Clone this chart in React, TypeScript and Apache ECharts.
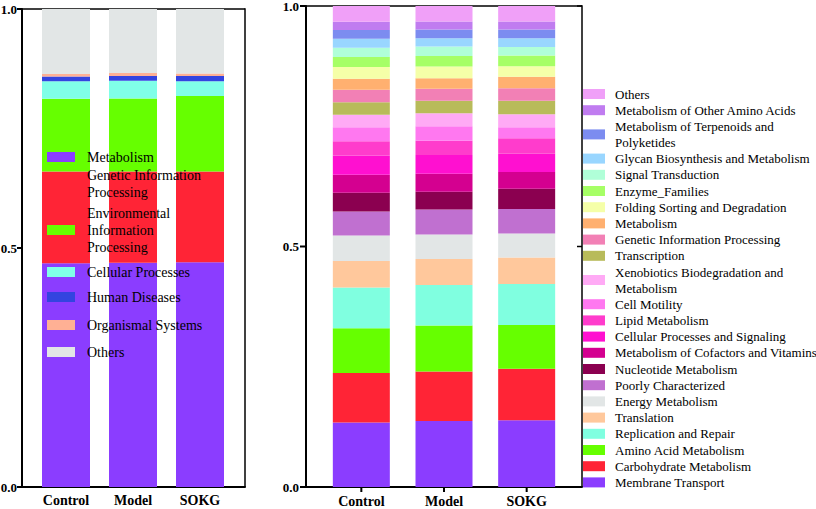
import React, { useEffect, useRef } from "react";
import * as echarts from "echarts";

const groups = ["Control", "Model", "SOKG"];

// Left chart (level 1 categories, bottom to top)
const leftCategories = [
  "Metabolism",
  "Genetic Information Processing",
  "Environmental Information Processing",
  "Cellular Processes",
  "Human Diseases",
  "Organismal Systems",
  "Others",
];
const leftLabels = [
  "Metabolism",
  "Genetic Information\nProcessing",
  "Environmental\nInformation\nProcessing",
  "Cellular Processes",
  "Human Diseases",
  "Organismal Systems",
  "Others",
];
const leftColors = ["#8B3DFF", "#FF2436", "#66FF00", "#80FFE8", "#3344E0", "#FFB094", "#E2E6E6"];
const leftControl = [0.468, 0.192, 0.152, 0.037, 0.01, 0.005, 0.136];
const leftModel = [0.469, 0.191, 0.153, 0.037, 0.01, 0.006, 0.134];
const leftSOKG = [0.47, 0.19, 0.158, 0.031, 0.011, 0.005, 0.135];

// Right chart (level 2 categories, bottom to top)
const rightCategories = [
  "Membrane Transport",
  "Carbohydrate Metabolism",
  "Amino Acid Metabolism",
  "Replication and Repair",
  "Translation",
  "Energy Metabolism",
  "Poorly Characterized",
  "Nucleotide Metabolism",
  "Metabolism of Cofactors and Vitamins",
  "Cellular Processes and Signaling",
  "Lipid Metabolism",
  "Cell Motility",
  "Xenobiotics Biodegradation and Metabolism",
  "Transcription",
  "Genetic Information Processing",
  "Metabolism",
  "Folding Sorting and Degradation",
  "Enzyme_Families",
  "Signal Transduction",
  "Glycan Biosynthesis and Metabolism",
  "Metabolism of Terpenoids and Polyketides",
  "Metabolism of Other Amino Acids",
  "Others",
];
const rightLabels = [
  "Membrane Transport",
  "Carbohydrate Metabolism",
  "Amino Acid Metabolism",
  "Replication and Repair",
  "Translation",
  "Energy Metabolism",
  "Poorly Characterized",
  "Nucleotide Metabolism",
  "Metabolism of Cofactors and Vitamins",
  "Cellular Processes and Signaling",
  "Lipid Metabolism",
  "Cell Motility",
  "Xenobiotics Biodegradation and\nMetabolism",
  "Transcription",
  "Genetic Information Processing",
  "Metabolism",
  "Folding Sorting and Degradation",
  "Enzyme_Families",
  "Signal Transduction",
  "Glycan Biosynthesis and Metabolism",
  "Metabolism of Terpenoids and\nPolyketides",
  "Metabolism of Other Amino Acids",
  "Others",
];
const rightColors = [
  "#8B3DFF", "#FF2436", "#66FF00", "#80FFE0", "#FFC89C", "#E2E6E6",
  "#C070D0", "#8B0050", "#D40090", "#FF10D0", "#FF3CCC", "#FF78F0",
  "#FFAAF5", "#B8BB5A", "#F280B5", "#FFB070", "#F5FFA8", "#A6FF66",
  "#B0FFD8", "#99D6FF", "#7C8CF0", "#C07CF0", "#F0A0F8",
];
const rightControl = [
  0.134, 0.103, 0.093, 0.085, 0.055, 0.053, 0.05, 0.039, 0.037, 0.04, 0.03, 0.029,
  0.026, 0.026, 0.026, 0.023, 0.024, 0.021, 0.019, 0.019, 0.018, 0.017, 0.033,
];
const rightModel = [
  0.137, 0.103, 0.096, 0.084, 0.054, 0.051, 0.052, 0.037, 0.037, 0.039, 0.03, 0.03,
  0.027, 0.026, 0.025, 0.022, 0.024, 0.022, 0.02, 0.017, 0.018, 0.017, 0.032,
];
const rightSOKG = [
  0.139, 0.107, 0.091, 0.085, 0.055, 0.05, 0.051, 0.042, 0.035, 0.038, 0.032, 0.023,
  0.027, 0.028, 0.026, 0.024, 0.022, 0.022, 0.018, 0.018, 0.018, 0.017, 0.032,
];

const yTickValues = [0, 0.5, 1.0];

// Left legend vertical positions (top of each item block)
const leftLegendTops = [148.5, 166.5, 204.5, 263.5, 288.5, 316.5, 343.5];

const FONT = "'Liberation Serif', 'Times New Roman', serif";

// layout: outer frames and inner grids
const frameL = { x0: 22, y0: 9, x1: 245, y1: 487 };
const frameR = { x0: 306, y0: 6, x1: 582, y1: 487 };
const gridL = { left: 32.5, width: 201 };
const gridR = { left: 320, width: 248 };

export default function App() {
  const ref = useRef<HTMLDivElement>(null);
  useEffect(() => {
    document.body.style.margin = "0";
    if (!ref.current) return;
    const chart = echarts.init(ref.current, undefined, { renderer: "svg" });

    const leftSeries = leftCategories.map((name, i) => ({
      name: "L_" + name,
      type: "bar",
      stack: "left",
      xAxisIndex: 0,
      yAxisIndex: 0,
      barWidth: 48,
      itemStyle: { color: leftColors[i] },
      data: [leftControl[i], leftModel[i], leftSOKG[i]],
    }));
    const rightSeries = rightCategories.map((name, i) => ({
      name: "R_" + name,
      type: "bar",
      stack: "right",
      xAxisIndex: 1,
      yAxisIndex: 1,
      barWidth: 57,
      itemStyle: { color: rightColors[i] },
      data: [rightControl[i], rightModel[i], rightSOKG[i]],
    }));

    const leftLegends = leftCategories.map((name, i) => ({
      left: 47,
      top: leftLegendTops[i],
      padding: 0,
      orient: "vertical",
      itemWidth: 28,
      itemHeight: 10,
      selectedMode: false,
      icon: "rect",
      data: ["L_" + name],
      formatter: () => leftLabels[i],
      textStyle: {
        fontFamily: FONT,
        fontSize: 14,
        lineHeight: 17,
        color: "#000",
        padding: [0, 0, 0, 7],
      },
    }));

    const rightLegend = {
      left: 583,
      top: 86,
      padding: 0,
      orient: "vertical",
      itemWidth: 22,
      itemHeight: 10,
      itemGap: 0.2,
      selectedMode: false,
      icon: "rect",
      data: rightCategories.map((n) => "R_" + n).reverse(),
      formatter: (n: string) => rightLabels[rightCategories.indexOf(n.slice(2))],
      textStyle: {
        fontFamily: FONT,
        fontSize: 13,
        lineHeight: 16,
        color: "#000",
        padding: [0, 0, 0, 5],
      },
    };

    const yLabel = {
      fontFamily: FONT,
      fontSize: 13,
      fontWeight: "bold",
      color: "#000",
      formatter: (v: number) => v.toFixed(1),
    };
    const xLabel = {
      fontFamily: FONT,
      fontSize: 14,
      fontWeight: "bold",
      color: "#000",
    };

    // Frame lines and ticks as graphic rects
    const r = (x: number, y: number, w: number, h: number) => ({
      type: "rect",
      shape: { x, y, width: w, height: h },
      style: { fill: "#000" },
    });
    const frameRects = (f: { x0: number; y0: number; x1: number; y1: number }) => [
      r(f.x0 - 1, f.y0 - 0.75, 2, f.y1 - f.y0 + 1.75),
      r(f.x0 - 1, f.y1 - 1, f.x1 - f.x0 + 1.75, 2),
      r(f.x0, f.y0 - 0.75, f.x1 - f.x0, 1.5),
      r(f.x1 - 0.75, f.y0 - 0.75, 1.5, f.y1 - f.y0 + 0.75),
    ];

    chart.setOption({
      animation: false,
      grid: [
        { left: gridL.left, top: frameL.y0, width: gridL.width, height: frameL.y1 - frameL.y0, outerBoundsMode: "none", containLabel: false },
        { left: gridR.left, top: frameR.y0, width: gridR.width, height: frameR.y1 - frameR.y0, outerBoundsMode: "none", containLabel: false },
      ],
      xAxis: [
        { type: "category", gridIndex: 0, data: groups, axisLine: { show: false }, axisTick: { show: false }, axisLabel: { ...xLabel, margin: 6 } },
        { type: "category", gridIndex: 1, data: groups, axisLine: { show: false }, axisTick: { show: false }, axisLabel: { ...xLabel, margin: 7 } },
      ],
      yAxis: [
        {
          type: "value", gridIndex: 0, min: 0, max: 1, interval: 0.5,
          offset: gridL.left - frameL.x0,
          axisLine: { show: false }, axisTick: { show: false },
          axisLabel: { ...yLabel, margin: 5 }, splitLine: { show: false },
        },
        {
          type: "value", gridIndex: 1, min: 0, max: 1, interval: 0.5,
          offset: gridR.left - frameR.x0,
          axisLine: { show: false }, axisTick: { show: false },
          axisLabel: { ...yLabel, margin: 7 }, splitLine: { show: false },
        },
      ],
      legend: [...leftLegends, rightLegend],
      series: [...leftSeries, ...rightSeries],
    });

    const els: any[] = [...frameRects(frameL), ...frameRects(frameR)];
    yTickValues.forEach((v) => {
      const pl = chart.convertToPixel({ gridIndex: 0 }, [groups[0], v]) as number[];
      els.push(r(frameL.x0 - 5, pl[1] - 1, 5, 2));
      const pr = chart.convertToPixel({ gridIndex: 1 }, [groups[0], v]) as number[];
      els.push(r(frameR.x0 - 6, pr[1] - 1, 6, 2));
      els.push(r(frameR.x1 - 5, pr[1] - 0.75, 5, 1.5));
    });
    groups.forEach((g) => {
      const pl = chart.convertToPixel({ gridIndex: 0 }, [g, 0]) as number[];
      els.push(r(pl[0] - 1, frameL.y1 - 6, 2, 6));
      const pr = chart.convertToPixel({ gridIndex: 1 }, [g, 0]) as number[];
      els.push(r(pr[0] - 1, frameR.y1, 2, 5));
    });
    chart.setOption({ graphic: { elements: els } });

    return () => chart.dispose();
  }, []);
  return <div ref={ref} style={{ width: 816, height: 509 }} />;
}
